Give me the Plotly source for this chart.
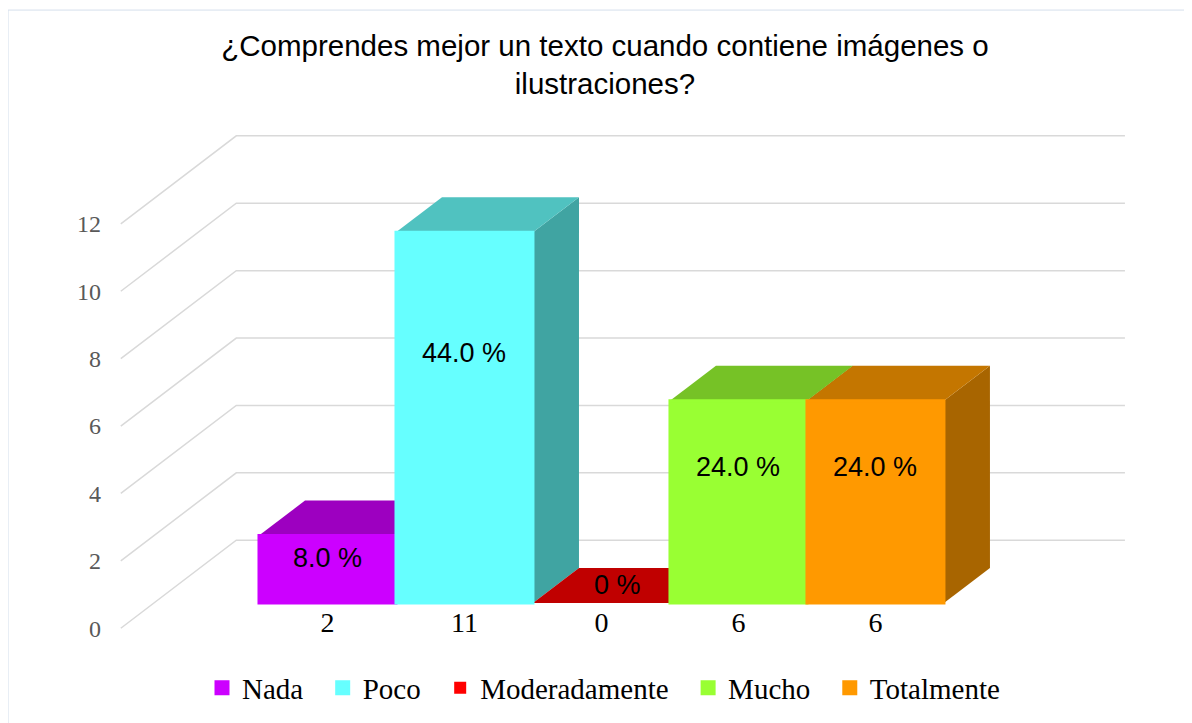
import plotly.graph_objects as go

# ---- data ----
categories = ["Nada", "Poco", "Moderadamente", "Mucho", "Totalmente"]
counts = [2, 11, 0, 6, 6]
pct_labels = ["8.0 %", "44.0 %", "0 %", "24.0 %", "24.0 %"]
cat_tick_labels = ["2", "11", "0", "6", "6"]
y_tick_values = [0, 2, 4, 6, 8, 10, 12]
front_colors = ["#CC00FF", "#66FFFF", "#FF0000", "#99FF33", "#FF9900"]
top_colors = ["#9D00C0", "#50C2C0", "#C00000", "#76C226", "#C47600"]
side_colors = ["#8500A6", "#40A4A2", "#A00000", "#63A51F", "#A86500"]
title_text = "¿Comprendes mejor un texto cuando contiene imágenes o<br>ilustraciones?"

# ---- pseudo-3D projection (x in category units, y in value units) ----
DX = 0.3358      # horizontal shift per unit of bar depth
DY = 1.04        # vertical shift per unit of bar depth
Z_FLOOR = -0.72  # front edge of floor (in bar depths)
Z_WALL = 1.79    # back wall
X_LEFT = -1.267
X_RIGHT = 5.22
HALF = 0.5
PAGE_OFFSET = 8  # body margin of the html page


def proj(x, v, z):
    return x + z * DX, v + z * DY


def path(points):
    pts = [proj(*p) for p in points]
    return "M " + " L ".join(f"{px:.4f},{py:.4f}" for px, py in pts) + " Z"


def open_path(points):
    pts = [proj(*p) for p in points]
    return "M " + " L ".join(f"{px:.4f},{py:.4f}" for px, py in pts)


shapes = []
# chart border
shapes.append(dict(type="rect", xref="paper", yref="paper",
                   x0=-0.0992, x1=1.2, y0=-0.3, y1=1.165,
                   line=dict(color="#D5DFEC", width=1), fillcolor="rgba(0,0,0,0)",
                   layer="below"))
# back wall / side gridlines
for t in y_tick_values:
    shapes.append(dict(type="path", xref="x", yref="y", layer="below",
                       path=open_path([(X_LEFT, t, Z_FLOOR), (X_LEFT, t, Z_WALL), (X_RIGHT, t, Z_WALL)]),
                       line=dict(color="#D9D9D9", width=1.5)))
# side and top faces of bars
for i, v in enumerate(counts):
    xr = i + HALF
    xl = i - HALF
    if v > 0:
        shapes.append(dict(type="path", xref="x", yref="y", layer="below",
                           path=path([(xr, 0, 0), (xr, v, 0), (xr, v, 1), (xr, 0, 1)]),
                           fillcolor=side_colors[i], line=dict(width=0)))
    shapes.append(dict(type="path", xref="x", yref="y", layer="below",
                       path=path([(xl, v, 0), (xr, v, 0), (xr, v, 1), (xl, v, 1)]),
                       fillcolor=top_colors[i], line=dict(width=0)))

fig = go.Figure()
for i, (cat, v) in enumerate(zip(categories, counts)):
    fig.add_trace(go.Bar(x=[i], y=[v], width=1, name=cat + "\u00a0\u00a0",
                         marker=dict(color=front_colors[i],
                                     line=dict(width=3 if v > 0 else 0, color=front_colors[i])),
                         hoverinfo="skip"))

annotations = []
for i, (v, lab) in enumerate(zip(counts, pct_labels)):
    if v > 0:
        ax, ay = i, v * 0.675
    else:
        ax, ay = proj(i, 0, 0.5)
        ax -= 0.05
    annotations.append(dict(x=ax, y=ay, xref="x", yref="y", text=lab, showarrow=False,
                            font=dict(family="Liberation Sans, Arial", size=27, color="#000000"),
                            xanchor="center", yanchor="middle"))

fig.update_layout(
    width=1192, height=723,
    margin=dict(l=112 - PAGE_OFFSET, r=1192 - (1160 - PAGE_OFFSET),
                t=100 - PAGE_OFFSET, b=723 - (645 - PAGE_OFFSET)),
    paper_bgcolor="white", plot_bgcolor="white",
    barmode="overlay",
    showlegend=True,
    title=dict(text=title_text, x=(605 - PAGE_OFFSET) / 1192, xanchor="center", xref="container",
               y=1 - 48 / 723, yanchor="top", yref="container",
               font=dict(family="Liberation Sans, Arial", size=29.5, color="#000000")),
    xaxis=dict(range=[-1.573, 6.077], tickvals=list(range(len(categories))),
               ticktext=cat_tick_labels, showgrid=False, zeroline=False, showline=False,
               ticks="", anchor="free", position=(645 - 603) / 545,
               tickfont=dict(family="Liberation Serif, Times New Roman", size=28, color="#000000")),
    yaxis=dict(range=[-1.246, 14.926], tickvals=[t + Z_FLOOR * DY for t in y_tick_values],
               ticktext=[str(t) for t in y_tick_values], showgrid=False, zeroline=False,
               showline=False, ticks="", ticklabelstandoff=10,
               tickfont=dict(family="Liberation Serif, Times New Roman", size=24, color="#595959")),
    legend=dict(orientation="h", x=(611 - 112) / 1048, xanchor="center",
                y=(645 - 688) / 545, yanchor="middle",
                font=dict(family="Liberation Serif, Times New Roman", size=29, color="#000000"),
                bgcolor="rgba(0,0,0,0)"),
    shapes=shapes,
    annotations=annotations,
)

fig.write_html("out.html")
